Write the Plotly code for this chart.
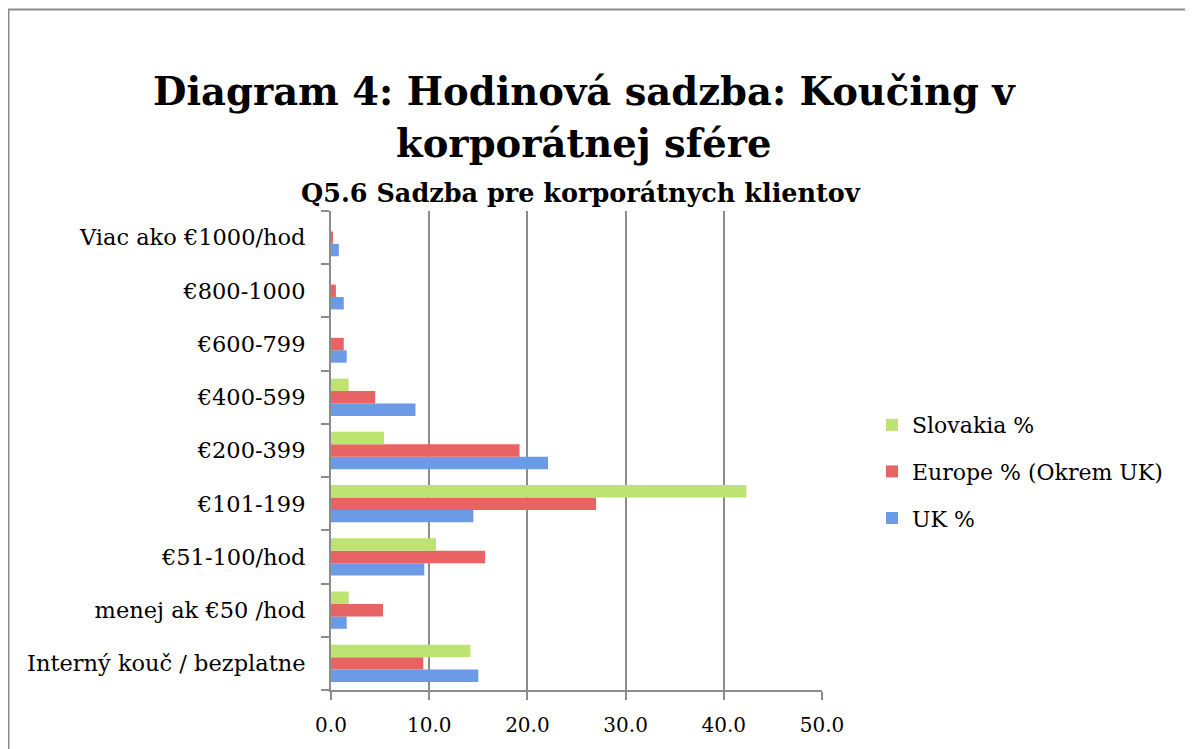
import plotly.graph_objects as go

categories = ["Interný kouč / bezplatne", "menej ak €50 /hod", "€51-100/hod", "€101-199",
              "€200-399", "€400-599", "€600-799", "€800-1000", "Viac ako €1000/hod"]
uk = [15.0, 1.6, 9.5, 14.5, 22.1, 8.6, 1.6, 1.3, 0.8]
europe = [9.4, 5.3, 15.7, 27.0, 19.2, 4.5, 1.3, 0.5, 0.2]
slovakia = [14.2, 1.8, 10.7, 42.3, 5.4, 1.8, 0.0, 0.0, 0.0]
x_ticks = [0, 10, 20, 30, 40, 50]

FONT = "DejaVu Serif"
OFF = 8  # browser body margin
W, H = 1193 - OFF, 749 - OFF
L, R, T, B = 331 - OFF, 822 - OFF, 211 - OFF, 690 - OFF

fig = go.Figure()
fig.add_trace(go.Bar(y=categories, x=uk, orientation="h", name="UK %", legendgroup="uk",
                     legendrank=3, marker=dict(color="#6b9be6", line=dict(width=0))))
fig.add_trace(go.Bar(y=categories, x=europe, orientation="h", name="Europe % (Okrem UK)",
                     legendgroup="eu", legendrank=2,
                     marker=dict(color="#e86363", line=dict(width=0))))
fig.add_trace(go.Bar(y=categories, x=slovakia, orientation="h", name="Slovakia %",
                     legendgroup="sk", legendrank=1,
                     marker=dict(color="#bde370", line=dict(width=0))))

def px_x(p):
    return (p - OFF - L) / (R - L)

def px_y(p):
    return (B - (p - OFF)) / (B - T)

fig.update_layout(
    width=W, height=H,
    margin=dict(l=L, r=W - R, t=T, b=H - B, autoexpand=False),
    paper_bgcolor="white", plot_bgcolor="white",
    barmode="group", bargap=0.3, bargroupgap=0,
    font=dict(family=FONT, color="black"),
    showlegend=True,
    legend=dict(traceorder="grouped", x=px_x(872), y=px_y(404), xanchor="left", yanchor="top",
                font=dict(size=22, family=FONT), itemsizing="constant", tracegroupgap=15,
                bgcolor="rgba(0,0,0,0)"),
    xaxis=dict(range=[0, 50], tickvals=x_ticks, ticktext=[f"{v:.1f}" for v in x_ticks],
               showgrid=True, gridcolor="#8c8c8c", gridwidth=2,
               showline=True, linecolor="#8c8c8c", linewidth=2,
               ticks="outside", ticklen=8, tickcolor="#8c8c8c", tickwidth=2,
               tickfont=dict(size=20, family=FONT), ticklabelstandoff=8,
               zeroline=False, fixedrange=True),
    yaxis=dict(type="category", categoryorder="array", categoryarray=categories,
               showline=True, linecolor="#8c8c8c", linewidth=2,
               ticks="outside", ticklen=8, tickcolor="#8c8c8c", tickwidth=2,
               tickson="boundaries", showgrid=False,
               tickfont=dict(size=22.5, family=FONT), ticklabelstandoff=19, fixedrange=True),
)

fig.add_annotation(text="<b>Diagram 4: Hodinová sadzba: Koučing v</b>", xref="paper", yref="paper",
                   x=px_x(584), y=px_y(91), xanchor="center", yanchor="middle", showarrow=False,
                   font=dict(size=38.5, family=FONT, color="black"))
fig.add_annotation(text="<b>korporátnej sfére</b>", xref="paper", yref="paper",
                   x=px_x(584), y=px_y(143), xanchor="center", yanchor="middle", showarrow=False,
                   font=dict(size=38.5, family=FONT, color="black"))
fig.add_annotation(text="<b>Q5.6 Sadzba pre korporátnych klientov</b>", xref="paper", yref="paper",
                   x=px_x(581), y=px_y(193), xanchor="center", yanchor="middle", showarrow=False,
                   font=dict(size=25.5, family=FONT, color="black"))

fig.add_shape(type="rect", xref="paper", yref="paper",
              x0=px_x(8.5), x1=px_x(1250), y0=px_y(800), y1=px_y(9.5),
              line=dict(color="#8c8c8c", width=2), fillcolor="rgba(0,0,0,0)", layer="below")

fig.write_html("out.html")
